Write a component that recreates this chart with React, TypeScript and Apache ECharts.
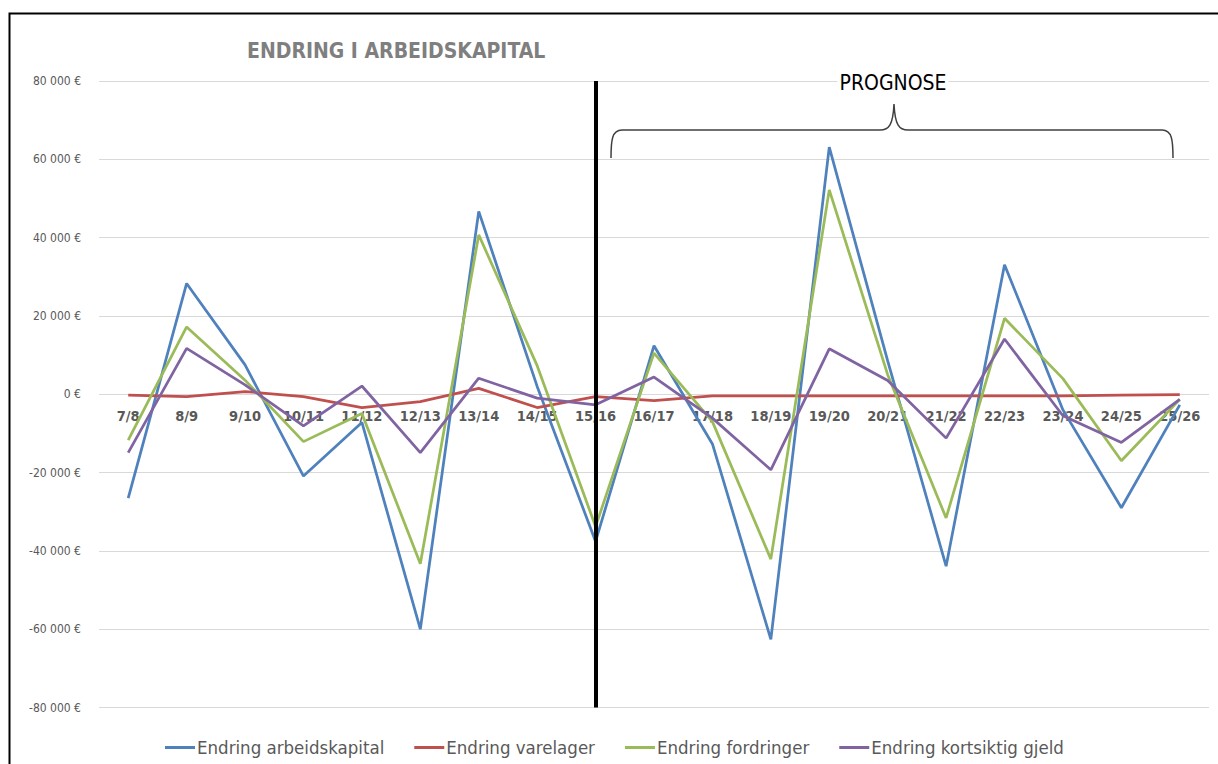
import React, { useEffect, useRef } from "react";
import * as echarts from "echarts";

const categories = ["7/8", "8/9", "9/10", "10/11", "11/12", "12/13", "13/14", "14/15", "15/16", "16/17", "17/18", "18/19", "19/20", "20/21", "21/22", "22/23", "23/24", "24/25", "25/26"];

const arbeidskapital = [-26500, 28300, 7500, -20900, -7200, -60000, 46700, 2000, -37600, 12400, -12700, -62600, 63100, 8500, -43900, 33100, -4000, -29000, -2700];
const varelager = [-200, -600, 700, -600, -3400, -1900, 1500, -3400, -600, -1600, -400, -400, -400, -400, -400, -400, -400, -200, -100];
const fordringer = [-11700, 17200, 3600, -12100, -4900, -43300, 40700, 7300, -33800, 10500, -7000, -42100, 52200, 5000, -31600, 19400, 4000, -17000, -1300];
const kortsiktigGjeld = [-14900, 11700, 2400, -8100, 2100, -14900, 4100, -1000, -2700, 4400, -6100, -19300, 11600, 3500, -11200, 14100, -5500, -12300, -1300];

const seriesNames = ["Endring arbeidskapital", "Endring varelager", "Endring fordringer", "Endring kortsiktig gjeld"];
const seriesColors = ["#4f81bd", "#c0504d", "#9bbb59", "#8064a2"];
const forecastStart = "15/16";

const FONT = "'Liberation Sans Narrow', 'DejaVu Sans Condensed', 'Liberation Sans', sans-serif";

const braceD =
  "M611,158 C611,140 612,130 622,130 L880,130 C889,130 893,125 894,104 C895,125 899,130 908,130 L1162,130 C1172,130 1173,140 1173,158";

let registered = false;
function ensureShapes() {
  if (registered) return;
  echarts.graphic.registerShape("brace", echarts.graphic.extendPath(braceD, {}));
  registered = true;
}

function fmtEuro(v: number): string {
  const s = String(Math.abs(v)).replace(/\B(?=(\d{3})+(?!\d))/g, " ");
  return (v < 0 ? "-" : "") + s + " €";
}

const GRID_TOP = 81;
const GRID_BOTTOM = 56.5;
const CHART_H = 764;

export default function App() {
  const ref = useRef<HTMLDivElement>(null);

  useEffect(() => {
    if (!ref.current) return;
    ensureShapes();
    const chart = echarts.init(ref.current, null, { renderer: "svg" });
    const data = [arbeidskapital, varelager, fordringer, kortsiktigGjeld];
    const gridH = CHART_H - GRID_TOP - GRID_BOTTOM;
    chart.setOption({
      animation: false,
      backgroundColor: "#ffffff",
      title: {
        text: "ENDRING I ARBEIDSKAPITAL",
        left: 242,
        top: 35,
        textStyle: { fontFamily: FONT, fontSize: 21, fontWeight: "bold", color: "#7f7f7f" },
      },
      legend: {
        data: seriesNames,
        left: 160,
        top: 733,
        icon: "rect",
        itemWidth: 30,
        itemHeight: 3,
        itemGap: 30,
        textStyle: { fontFamily: FONT, fontSize: 18.5, color: "#595959", padding: [0, 0, 0, -3] },
      },
      grid: { left: 99, right: 9, top: GRID_TOP, bottom: GRID_BOTTOM, containLabel: false },
      xAxis: {
        type: "category",
        data: categories,
        boundaryGap: true,
        offset: -gridH / 2,
        axisLine: { show: false, onZero: false },
        axisTick: { show: false },
        axisLabel: {
          interval: 0,
          margin: 14,
          fontFamily: FONT,
          fontSize: 14.5,
          fontWeight: "bold",
          color: "#595959",
        },
        splitLine: { show: false },
      },
      yAxis: {
        type: "value",
        min: -80000,
        max: 80000,
        interval: 20000,
        axisLine: { show: false },
        axisTick: { show: false },
        axisLabel: {
          margin: 18,
          fontFamily: FONT,
          fontSize: 12,
          color: "#595959",
          formatter: (v: number) => fmtEuro(v),
        },
        splitLine: { lineStyle: { color: "#d9d9d9", width: 1 } },
      },
      series: seriesNames.map((name, i) => ({
        name,
        type: "line",
        data: data[i],
        symbol: "none",
        color: seriesColors[i],
        lineStyle: { color: seriesColors[i], width: 2.75 },
        z: 3 + i,
        markLine:
          i === 0
            ? {
                silent: true,
                symbol: ["none", "none"],
                label: { show: false },
                lineStyle: { color: "#000000", width: 4, type: "solid" },
                data: [{ xAxis: forecastStart }],
                z: 10,
              }
            : undefined,
      })),
      graphic: [
        {
          type: "rect",
          left: 7,
          top: 11,
          shape: { x: 0, y: 0, width: 1300, height: 900 },
          style: { fill: "none", stroke: "#000000", lineWidth: 2 },
          silent: true,
          z: 100,
        },
        {
          type: "brace",
          x: 0,
          y: 0,
          style: { fill: "none", stroke: "#404040", lineWidth: 1.5 },
          silent: true,
          z: 50,
        },
        {
          type: "text",
          x: 893,
          y: 83,
          style: {
            text: "PROGNOSE",
            fontFamily: FONT,
            fontSize: 21,
            fill: "#000000",
            align: "center",
            verticalAlign: "middle",
            backgroundColor: "#ffffff",
            padding: [0, 2],
          },
          silent: true,
          z: 50,
        },
      ],
    });
    return () => chart.dispose();
  }, []);

  return (
    <div
      ref={ref}
      style={{ position: "fixed", left: 0, top: 0, width: 1218, height: 764, background: "#fff" }}
    />
  );
}
